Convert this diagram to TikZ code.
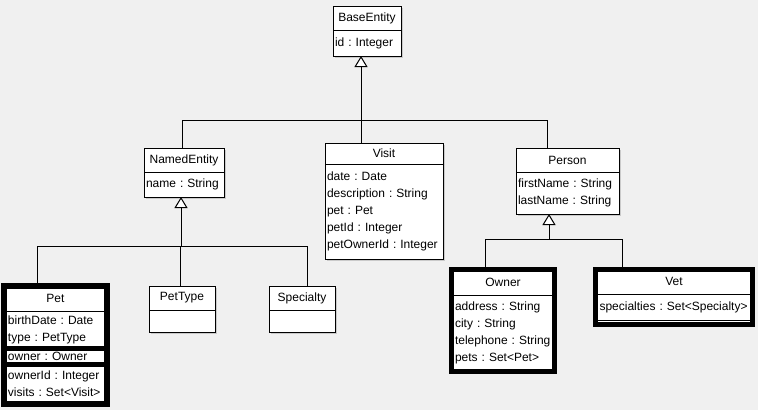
\documentclass[tikz,border=0pt]{standalone}
\usepackage{fontspec}
\setmainfont{Liberation Sans}
\usetikzlibrary{positioning,arrows.meta,shadows,fit,calc}
\definecolor{canvas}{HTML}{F0F0F0}
\begin{document}
\begin{tikzpicture}[
    x=1pt,
    y=-1pt,
    font=\fontsize{12}{17}\selectfont\frenchspacing,
    cell/.style={
        draw,
        fill=white,
        line width=1pt,
        outer sep=0pt,
        inner xsep=2pt,
        inner ysep=1pt
    },
    lifted/.style={drop shadow={shadow xshift=1.5pt, shadow yshift=-1.5pt, fill=black!35}},
    hdr/.style={cell, anchor=north west, align=center},
    attrs/.style={cell, align=left},
    selbox/.style={draw, line width=5pt, inner sep=0pt, outer sep=0pt},
    link/.style={line width=1pt},
    gen/.style={link, -{Triangle[width=13pt, length=11pt, fill=white]}}
]
    \useasboundingbox[fill=canvas] (0,0) rectangle (758,410);

    \node[hdr, lifted, minimum width=68pt, minimum height=24pt] (base) at (333,6) {BaseEntity};
    \node[attrs, lifted, below=0pt of base, text width=64pt, minimum height=26pt] (base-attr) {id : Integer};

    \node[hdr, lifted, minimum width=80pt, minimum height=24pt] (named) at (144,148) {NamedEntity};
    \node[attrs, lifted, below=0pt of named, text width=76pt, minimum height=25pt] (named-attr) {name : String};

    \node[hdr, lifted, minimum width=118pt, minimum height=21pt] (visit) at (325,143) {Visit};
    \node[attrs, lifted, below=0pt of visit, text width=114pt, minimum height=95pt] (visit-attr) {date : Date\\description : String\\pet : Pet\\petId : Integer\\petOwnerId : Integer};

    \node[hdr, lifted, minimum width=103pt, minimum height=24pt] (person) at (516,148) {Person};
    \node[attrs, lifted, below=0pt of person, text width=99pt, minimum height=42pt] (person-attr) {firstName : String\\lastName : String};

    \node[hdr, lifted, minimum width=66pt, minimum height=24pt] (pettype) at (149,286) {PetType};
    \node[attrs, lifted, below=0pt of pettype, text width=62pt, minimum height=22pt] (pettype-attr) {};

    \node[hdr, lifted, minimum width=66pt, minimum height=24pt] (specialty) at (269,286) {Specialty};
    \node[attrs, lifted, below=0pt of specialty, text width=62pt, minimum height=22pt] (specialty-attr) {};

    \node[hdr, minimum width=103pt, minimum height=25pt] (pet) at (4,286) {Pet};
    \node[attrs, below=0pt of pet, inner xsep=4pt, text width=95pt, minimum height=37pt] (pet-attr) {birthDate : Date\\type : PetType};
    \node[attrs, below=0pt of pet-attr, inner xsep=4pt, inner ysep=0pt, text width=95pt, minimum height=16pt] (pet-owner) {owner : Owner};
    \node[attrs, below=0pt of pet-owner, inner xsep=4pt, text width=95pt, minimum height=40pt] (pet-more) {ownerId : Integer\\visits : Set<Visit>};
    \node[selbox, fit=(pet-owner)] (pet-band) {};
    \node[selbox, line width=6pt, fit=(pet)(pet-more)] (pet-frame) {};

    \node[hdr, minimum width=103pt, minimum height=25.5pt] (owner) at (451.5,269.5) {Owner};
    \node[attrs, below=0pt of owner, inner xsep=3.5pt, text width=96pt, minimum height=76.5pt] (owner-attr) {address : String\\city : String\\telephone : String\\pets : Set<Pet>};
    \node[selbox, fit=(owner)(owner-attr)] (owner-frame) {};

    \node[hdr, minimum width=157pt, minimum height=24.5pt] (vet) at (595.5,269.5) {Vet};
    \node[attrs, below=0pt of vet, inner xsep=4pt, text width=149pt, minimum height=26pt] (vet-attr) {specialties : Set<Specialty>};
    \node[cell, below=0pt of vet-attr, inner sep=0pt, minimum width=157pt, minimum height=4.5pt] (vet-ops) {};
    \node[selbox, fit=(vet)(vet-ops)] (vet-frame) {};

    \coordinate (base-bus) at (361,120);
    \draw[gen] (base-bus) -- (base-bus |- base-attr.south);
    \draw[link] (visit.north -| base-bus) -- (base-bus);
    \draw[link] ($(named.north)+(-2,0)$) |- (base-bus);
    \draw[link] ($(person.north)+(-20,0)$) |- (base-bus);

    \coordinate (named-bus) at (181,246);
    \draw[gen] (named-bus) -- (named-bus |- named-attr.south);
    \draw[link] ($(pet-frame.north)+(-18.5,0)$) |- (named-bus);
    \draw[link] ($(pettype.north)+(-2,0)$) |- (named-bus);
    \draw[link] ($(specialty.north)+(5,0)$) |- (named-bus);

    \coordinate (person-bus) at (549,239);
    \draw[gen] (person-bus) -- (person-bus |- person-attr.south);
    \draw[link] ($(owner-frame.north)+(-18,0)$) |- (person-bus);
    \draw[link] ($(vet-frame.north)+(-52,0)$) |- (person-bus);
\end{tikzpicture}
\end{document}
